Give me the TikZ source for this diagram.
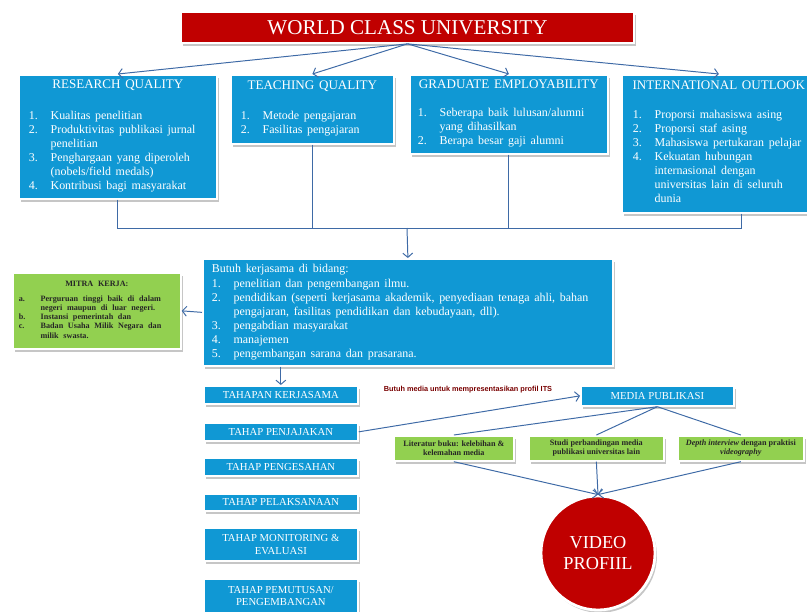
\documentclass[tikz,border=0pt]{standalone}
\usepackage{fontspec}
\setmainfont{Liberation Serif}
\setsansfont{Liberation Sans}
\usetikzlibrary{shapes, arrows.meta, positioning, calc, shadows}

\definecolor{wcublue}{RGB}{16, 152, 212}
\definecolor{wcured}{RGB}{192, 0, 0}
\definecolor{wcugreen}{RGB}{146, 208, 80}
\definecolor{linkblue}{RGB}{62, 106, 166}
\definecolor{notered}{RGB}{120, 0, 0}

\newcommand{\headfont}{\fontsize{9.3}{11}\selectfont}
\newcommand{\bodyfont}{\fontsize{8.5}{10}\selectfont}
\newcommand{\stepfont}{\fontsize{7.6}{9}\selectfont}
\newcommand{\tinybold}{\fontsize{5.8}{6.6}\selectfont\bfseries}

\begin{document}
\begin{tikzpicture}[x=0.025cm, y=-0.025cm,
    bluebox/.style={fill=wcublue, draw=white, line width=1.2pt, text=white, inner sep=0pt,
      drop shadow={opacity=0.45, shadow xshift=1.4pt, shadow yshift=-2pt}},
    greenbox/.style={fill=wcugreen, draw=white, line width=1.2pt, text=black!85, inner sep=0pt,
      drop shadow={opacity=0.45, shadow xshift=1.4pt, shadow yshift=-2pt}},
    stepbox/.style={bluebox, anchor=north west, minimum width=3.85cm, align=center, font=\stepfont},
    link/.style={draw=linkblue, line width=0.7pt},
    arr/.style={link, -{Straight Barb[length=3pt, width=7pt]}}]
  \clip (0,0) rectangle (807,611);

  % Root
  \node[bluebox, fill=wcured, minimum width=11.325cm, minimum height=0.775cm, font=\fontsize{15}{17}\selectfont] (wcu) at (407.5,27.5) {WORLD CLASS UNIVERSITY};

  % Four criteria
  \node[bluebox, anchor=north west, minimum width=4.95cm, minimum height=3.1cm, text width=4.45cm] (research) at (18,74) {%
    {\centering\headfont RESEARCH QUALITY\par}\vspace{12pt}
    \noindent{\bodyfont\begin{tabular}{@{}p{15.5pt}@{}l@{}}
      1. & Kualitas penelitian\\
      2. & Produktivitas publikasi jurnal\\
         & penelitian\\
      3. & Penghargaan yang diperoleh\\
         & (nobels/field medals)\\
      4. & Kontribusi bagi masyarakat
    \end{tabular}}};
  \node[bluebox, anchor=north west, minimum width=4.075cm, minimum height=1.725cm, text width=3.575cm] (teaching) at (230,74) {%
    {\centering\headfont TEACHING QUALITY\par}\vspace{12pt}
    \noindent{\bodyfont\begin{tabular}{@{}p{15.5pt}@{}l@{}}
      1. & Metode pengajaran\\
      2. & Fasilitas pengajaran
    \end{tabular}}};
  \node[bluebox, anchor=north west, minimum width=4.95cm, minimum height=1.975cm, text width=4.55cm] (graduate) at (409,74) {%
    {\centering\headfont GRADUATE EMPLOYABILITY\par}\vspace{12pt}
    \noindent{\bodyfont\begin{tabular}{@{}p{15.5pt}@{}l@{}}
      1. & Seberapa baik lulusan/alumni\\
         & yang dihasilkan\\
      2. & Berapa besar gaji alumni
    \end{tabular}}};
  \node[bluebox, anchor=north west, minimum width=4.85cm, minimum height=3.45cm, text width=4.3cm] (intl) at (621,74) {%
    {\centering\headfont\makebox[0pt]{INTERNATIONAL OUTLOOK}\par}\vspace{12pt}
    \noindent{\bodyfont\begin{tabular}{@{}p{15.5pt}@{}l@{}}
      1. & Proporsi mahasiswa asing\\
      2. & Proporsi staf asing\\
      3. & Mahasiswa pertukaran pelajar\\
      4. & Kekuatan hubungan\\
         & internasional dengan\\
         & universitas lain di seluruh\\
         & dunia
    \end{tabular}}};

  \draw[arr] (wcu.south) -- (research.north);
  \draw[arr] (wcu.south) -- (teaching.north);
  \draw[arr] (wcu.south) -- (graduate.north);
  \draw[arr] (wcu.south) -- (intl.north);

  % Collector line
  \coordinate (bus) at (407,228);
  \draw[link] (research.south) |- (bus);
  \draw[link] (teaching.south) -- (teaching.south |- bus);
  \draw[link] (graduate.south) -- (graduate.south |- bus);
  \draw[link] ([xshift=0.575cm]intl.south) |- (bus);

  % Cooperation
  \node[bluebox, anchor=north west, minimum width=10.25cm, minimum height=2.675cm, text width=9.8cm] (kerjasama) at (202,258) {%
    \noindent{\bodyfont\begin{tabular}{@{}p{15.5pt}@{}l@{}}
      \multicolumn{2}{@{}l@{}}{Butuh kerjasama di bidang:}\\
      1. & penelitian dan pengembangan ilmu.\\
      2. & pendidikan (seperti kerjasama akademik, penyediaan tenaga ahli, bahan\\
         & pengajaran, fasilitas pendidikan dan kebudayaan, dll).\\
      3. & pengabdian masyarakat\\
      4. & manajemen\\
      5. & pengembangan sarana dan prasarana.
    \end{tabular}}};
  \draw[arr] (bus) -- (kerjasama.north);

  \node[greenbox, anchor=north west, minimum width=4.2cm, minimum height=1.9cm, text width=3.9cm] (mitra) at (12,272) {%
    {\centering\tinybold MITRA KERJA:\par}\vspace{5pt}
    \noindent{\tinybold\begin{tabular}{@{}p{15.5pt}@{}l@{}}
      a. & Perguruan tinggi baik di dalam\\
         & negeri maupun di luar negeri.\\
      b. & Instansi pemerintah dan\\
      c. & Badan Usaha Milik Negara dan\\
         & milik swasta.
    \end{tabular}}};
  \draw[arr] (kerjasama.west) -- (mitra.east);

  % Stages
  \node[stepbox, minimum height=0.45cm] (tahapan) at (203,385) {TAHAPAN KERJASAMA};
  \node[stepbox, minimum height=0.45cm] (penjajakan) at (203,422) {TAHAP PENJAJAKAN};
  \node[stepbox, minimum height=0.45cm] (pengesahan) at (203,457) {TAHAP PENGESAHAN};
  \node[stepbox, minimum height=0.425cm] (pelaksanaan) at (203,493) {TAHAP PELAKSANAAN};
  \node[stepbox, minimum height=0.825cm] (monitoring) at (203,527) {TAHAP MONITORING \&\\EVALUASI};
  \node[stepbox, minimum height=0.85cm] (pemutusan) at (203,578) {TAHAP PEMUTUSAN/\\PENGEMBANGAN};
  \draw[arr] (tahapan.north |- kerjasama.south) -- (tahapan.north);

  % Media
  \node[font=\sffamily\bfseries\fontsize{5.2}{6}\selectfont, text=notered, inner sep=0pt] (note) at (468,390) {Butuh media untuk mempresentasikan profil ITS};
  \node[bluebox, anchor=north west, minimum width=3.825cm, minimum height=0.5cm, font=\stepfont] (media) at (580,385) {MEDIA PUBLIKASI};
  \draw[arr] (penjajakan.east) -- (media.west);

  \node[greenbox, anchor=north west, minimum width=3cm, minimum height=0.625cm, align=center, font=\tinybold] (literatur) at (393,435) {Literatur buku: kelebihan \&\\kelemahan media};
  \node[greenbox, anchor=north west, minimum width=3.375cm, minimum height=0.625cm, align=center, font=\tinybold] (studi) at (528,435) {Studi perbandingan media\\publikasi universitas lain};
  \node[greenbox, anchor=north west, minimum width=3.15cm, minimum height=0.625cm, align=center, font=\tinybold] (depth) at (677,435) {\textit{Depth interview} dengan praktisi\\\textit{videography}};
  \draw[link] (media.south) -- (literatur.north);
  \draw[link] (media.south) -- (studi.north);
  \draw[link] (media.south) -- (depth.north);

  \node[circle, fill=wcured, draw=white, line width=2pt, minimum size=2.85cm, text=white, align=center,
    font=\fontsize{13}{14.5}\selectfont, drop shadow={opacity=0.45, shadow xshift=1.4pt, shadow yshift=-2pt}] (video) at (598,553) {VIDEO\\PROFIIL};
  \draw[arr] (literatur.south) -- (video.north);
  \draw[arr] (studi.south) -- (video.north);
  \draw[arr] (depth.south) -- (video.north);
\end{tikzpicture}
\end{document}
